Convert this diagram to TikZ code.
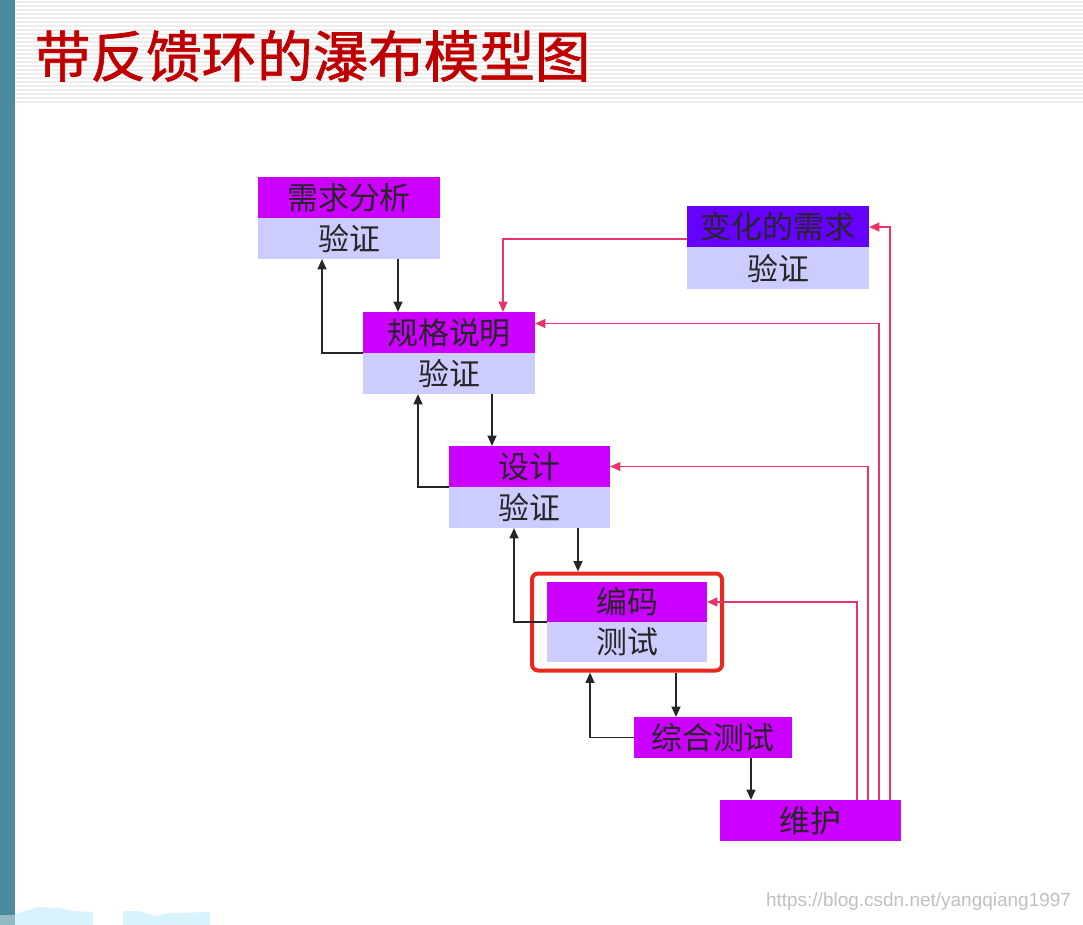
\documentclass[tikz,border=0pt]{standalone}
\usepackage{fontspec}
\setmainfont{Liberation Sans}
\newfontfamily\cjk{Noto Sans CJK SC}
\newfontfamily\cjkhead[FakeBold=1.2]{Noto Sans CJK SC}
\usetikzlibrary{calc, positioning}
\usetikzlibrary{arrows.meta}
\usetikzlibrary{fit}
\definecolor{phase}{HTML}{CC00FF}
\definecolor{check}{HTML}{CCCCFF}
\definecolor{change}{HTML}{6600FF}
\definecolor{loopred}{HTML}{E8336B}
\definecolor{framered}{HTML}{E8281E}
\definecolor{sidebar}{HTML}{4A8C9C}
\definecolor{titlered}{HTML}{C00000}

\begin{document}
\begin{tikzpicture}[x=0.025cm,y=-0.025cm,
  box/.style={rectangle,inner sep=0pt,outer sep=0pt,minimum height=41*\px,
    text=black!85,font=\cjk\fontsize{22}{22}\selectfont},
  phasebox/.style={box,fill=phase},
  checkbox/.style={box,fill=check},
  flow/.style={black!85,line width=1.4pt,-{Triangle[length=0.26cm,width=0.22cm]}},
  loopback/.style={loopred,line width=1.4pt,-{Triangle[length=0.26cm,width=0.22cm]}},
  stripe/.style={black!7,line width=1.1pt}]
\def\px{0.025cm}
\useasboundingbox (0,0) rectangle (1083,925);

\fill[sidebar] (0,0) rectangle (15,915);
\fill[sidebar!60] (0,915) rectangle (15,925);
\foreach \y in {2,6,...,104}{
  \draw[stripe] (15,\y) -- (1083,\y);
}
\fill[cyan!15] (15,914) -- (28,910) -- (38,907) -- (60,908) -- (75,911) -- (93,912) -- (93,925) -- (15,925) -- cycle;
\fill[cyan!15] (123,911) -- (140,911) -- (155,916) -- (170,913) -- (210,912) -- (210,925) -- (123,925) -- cycle;

\node[anchor=west,text=titlered,font=\cjkhead\fontsize{39.5}{40}\selectfont] (title) at (30,56) {带反馈环的瀑布模型图};

\node[phasebox,minimum width=182*\px] (req) at (349,197.5) {需求分析};
\node[checkbox,minimum width=182*\px] (reqv) at (349,238.5) {验证};
\node[phasebox,minimum width=172*\px] (spec) at (449,332.5) {规格说明};
\node[checkbox,minimum width=172*\px] (specv) at (449,373.5) {验证};
\node[box,fill=change,minimum width=182*\px] (chg) at (778,227) {变化的需求};
\node[checkbox,minimum width=182*\px] (chgv) at (778,268) {验证};
\node[phasebox,minimum width=161*\px] (des) at (529.5,466.5) {设计};
\node[checkbox,minimum width=161*\px] (desv) at (529.5,507.5) {验证};
\node[phasebox,minimum width=160*\px,minimum height=40*\px] (code) at (627,602) {编码};
\node[checkbox,minimum width=160*\px,minimum height=40*\px] (test) at (627,642) {测试};
\node[phasebox,minimum width=158*\px] (integ) at (713,737.5) {综合测试};
\node[phasebox,minimum width=181*\px] (maint) at (810.5,820.5) {维护};

\node[draw=framered,line width=0.1cm,rounded corners=0.15cm,inner xsep=15*\px,inner ysep=8.5*\px,fit=(code)(test)] (hl) {};

\draw[flow] ([xshift=49*\px]reqv.south) -- ([xshift=49*\px]reqv.south |- spec.north);
\draw[flow] (spec.south west) -| ([xshift=-27*\px]reqv.south);
\draw[flow] ([xshift=43*\px]specv.south) -- ([xshift=43*\px]specv.south |- des.north);
\draw[flow] (des.south west) -| ([xshift=-31*\px]specv.south);
\draw[flow] ([xshift=48.5*\px]desv.south) -- ([xshift=48.5*\px]desv.south |- hl.north);
\draw[flow] (code.south west) -| ([xshift=-15.5*\px]desv.south);
\draw[flow] ([xshift=49*\px]hl.south -| test.south) -- ([xshift=49*\px]test.south |- integ.north);
\draw[flow] (integ.west) -| ([xshift=-37*\px]test.south |- hl.south);
\draw[flow] ([xshift=38*\px]integ.south) -- ([xshift=38*\px]integ.south |- maint.north);

\draw[loopback] ([xshift=46.5*\px]maint.north) |- (code.east);
\draw[loopback] ([xshift=57.5*\px]maint.north) |- (des.east);
\draw[loopback] ([xshift=68.5*\px]maint.north) |- ([yshift=9*\px]spec.east);
\draw[loopback] ([xshift=79.5*\px]maint.north) |- (chg.east);
\draw[loopback] ([yshift=-12*\px]chg.west) -| ([xshift=54*\px]spec.north);

\node[anchor=east,text=black!25,font=\fontsize{13.5}{14}\selectfont] (mark) at (1076,902) {https://blog.csdn.net/yangqiang1997};
\end{tikzpicture}
\end{document}
